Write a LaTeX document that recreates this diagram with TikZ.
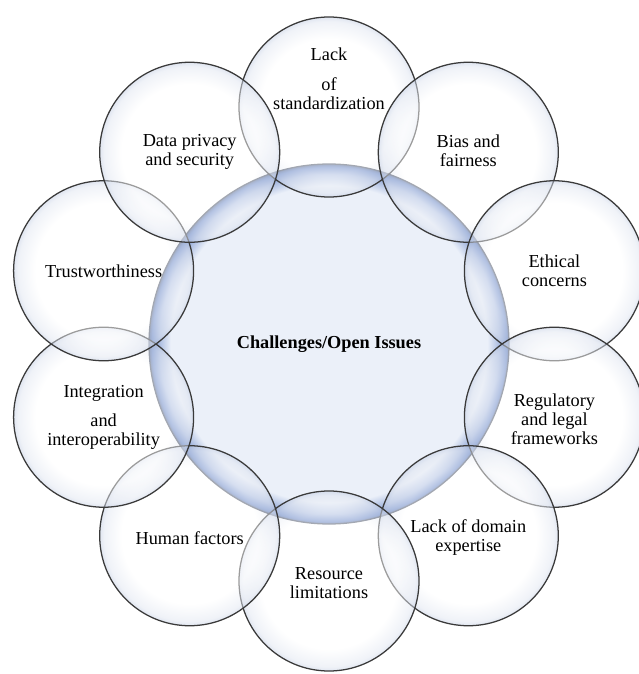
\documentclass[tikz,border=0pt]{standalone}
\usepackage{fontspec}
\setmainfont{Liberation Serif}

\definecolor{rimblue}{HTML}{6A88C8}
\definecolor{corefill}{HTML}{EBF0F9}
\definecolor{edgegray}{HTML}{3A3A3A}
\definecolor{bubbletint}{HTML}{C2CDE3}

\pgfdeclareradialshading{coreshade}{\pgfpoint{0bp}{0bp}}{color(0bp)=(corefill); color(22bp)=(corefill); color(23.6bp)=(rimblue!50!corefill); color(24.6bp)=(rimblue); color(25bp)=(rimblue!75!black); color(50bp)=(rimblue!75!black)}
\pgfdeclareradialshading{bubbleshade}{\pgfpoint{0bp}{0bp}}{color(0bp)=(white); color(19bp)=(white); color(23.8bp)=(bubbletint!50!white); color(25bp)=(bubbletint); color(50bp)=(bubbletint)}

\begin{document}
\begin{tikzpicture}[
    every node/.style={font=\fontsize{13}{13.5}\selectfont, align=center, inner sep=0pt},
    core/.style={circle, minimum size=9cm, shading=coreshade, draw=edgegray!70!rimblue, line width=0.9pt},
    bubble/.style={circle, minimum size=4.5cm, shading=bubbleshade, fill opacity=0.5, text opacity=1, draw=edgegray, line width=0.9pt},
    ]
    \useasboundingbox (-8.225,-8.25) rectangle (7.75,8.6);

    \def\ring{5.925cm}
    \def\angstep{36}

    \node[core] (core) at (0,0) {\textbf{Challenges/Open Issues}};

    % bubbles round the core
    \foreach \i in {0,...,9} {%
        \node[bubble] (c\i) at ({90-\angstep*\i}:\ring) {};%
    }

    % labels on top of all bubbles
    \foreach \i/\txt/\dy in {
        0/{Lack\\[8pt]of\\standardization}/0.7,
        1/{Bias and\\fairness}/0.05,
        2/{Ethical\\concerns}/0,
        3/{Regulatory\\and legal\\frameworks}/-0.05,
        4/{Lack of domain\\expertise}/-0.05,
        5/{Resource\\limitations}/-0.05,
        6/{Human factors}/-0.05,
        7/{Integration\\[7pt]and\\interoperability}/0,
        8/{Trustworthiness}/0,
        9/{Data privacy\\and security}/0} {%
        \node (t\i) at ([yshift=\dy cm]c\i.center) {\txt};%
    }

\end{tikzpicture}
\end{document}
